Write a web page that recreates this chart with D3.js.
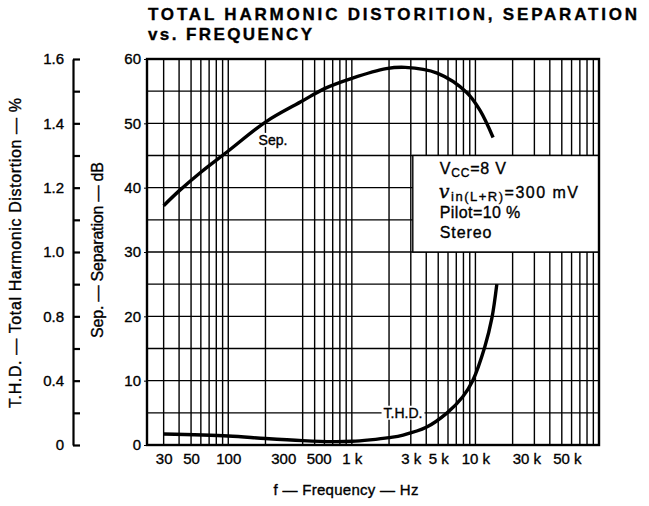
<!DOCTYPE html>
<html>
<head>
<meta charset="utf-8">
<script src="https://cdn.jsdelivr.net/npm/d3@7"></script>
<style>
body { margin: 0; background: #fff; }
svg text { font-family: "Liberation Sans", Arial, sans-serif; fill: #000; stroke: #000; stroke-width: 0.35; }
.axis path, .axis line { stroke: #000; }
</style>
</head>
<body>
<svg id="chart" width="649" height="506"></svg>
<script>
// values
var sepFreq = [30, 40, 60, 100, 200, 400, 600, 1000, 1900, 2700, 4900, 8500, 10900, 13900];
var sepDb = [37.2, 39.5, 42.4, 45.7, 50.2, 53.5, 55.4, 57, 58.5, 58.7, 57.8, 54.8, 52, 47.8];
var thdFreq = [30, 100, 200, 400, 700, 1000, 1400, 2000, 2600, 4000, 5900, 7900, 9500, 11900, 13600, 14900];
var thdPct = [0.068, 0.056, 0.04, 0.027, 0.021, 0.023, 0.032, 0.046, 0.062, 0.11, 0.2, 0.3, 0.4, 0.61, 0.79, 0.9];
var xTicks = [30, 50, 100, 300, 500, 1000, 3000, 5000, 10000, 30000, 50000];
var xTickNudge = { 300: -4, 500: 4, 30000: -8, 50000: 5 };
var sepTicks = [0, 10, 20, 30, 40, 50, 60];
var thdTicks = [0, 0.4, 0.8, 1.0, 1.2, 1.4, 1.6];
var thdMinor = [0.2, 0.6, 0.9, 1.1, 1.3, 1.5];
var conditions = ["Vcc=8 V", "vin(L+R)=300 mV", "Pilot=10 %", "Stereo"];

var margin = { top: 59, left: 147, right: 50, bottom: 61 };
var width = 649 - margin.left - margin.right;
var height = 506 - margin.top - margin.bottom;

var svg = d3.select("#chart");

var x = d3.scaleLog().domain([22, 100000]).range([margin.left, margin.left + width]);
var ySep = d3.scaleLinear().domain([0, 60]).range([margin.top + height, margin.top]);
// the T.H.D. scale on the datasheet is not linear: 0, 0.4, 0.8 then 0.2 steps
var yThd = d3.scaleLinear().domain(thdTicks).range(sepTicks.map(ySep));

// grid
var gridX = [];
[10, 100, 1000, 10000].forEach(function (d) {
    for (var m = 1; m < 10; m++) {
        var v = m * d;
        if (v >= 30 && v !== 300) gridX.push(v);
    }
});
var gridY = d3.range(5, 60, 5);

var grid = svg.append("g").attr("class", "grid");
grid.selectAll(".gx").data(gridX).enter().append("line")
    .attr("class", "gx")
    .attr("x1", function (d) { return x(d); })
    .attr("x2", function (d) { return x(d); })
    .attr("y1", ySep(60)).attr("y2", ySep(0))
    .attr("stroke", "#000").attr("stroke-width", 1.4);
grid.selectAll(".gy").data(gridY).enter().append("line")
    .attr("class", "gy")
    .attr("x1", x(22)).attr("x2", x(100000))
    .attr("y1", function (d) { return ySep(d); })
    .attr("y2", function (d) { return ySep(d); })
    .attr("stroke", "#000").attr("stroke-width", 1.4);

// conditions box
var boxX = x(3000) + 2, boxY = ySep(45), boxW = x(100000) - boxX, boxH = ySep(30) - ySep(45);
svg.append("rect")
    .attr("x", boxX).attr("y", boxY).attr("width", boxW).attr("height", boxH)
    .attr("fill", "#fff").attr("stroke", "#000").attr("stroke-width", 1.4);

var cond = svg.append("g").attr("font-size", 16).attr("letter-spacing", 0.4);
var t0 = cond.append("text").attr("x", boxX + 27).attr("y", boxY + 18).attr("letter-spacing", 0.8);
t0.append("tspan").text("V");
t0.append("tspan").attr("font-size", 12).attr("dy", 3).text("CC");
t0.append("tspan").attr("dy", -3).text("=8 V");
var t1 = cond.append("text").attr("x", boxX + 26).attr("y", boxY + 42).attr("letter-spacing", 1.5);
t1.append("tspan").attr("font-family", "DejaVu Serif").attr("font-style", "italic").attr("font-size", 19).text("v");
t1.append("tspan").attr("font-size", 13).attr("dy", 3).text("in(L+R)");
t1.append("tspan").attr("dy", -3).text("=300 mV");
cond.append("text").attr("x", boxX + 27).attr("y", boxY + 62).text(conditions[2]);
cond.append("text").attr("x", boxX + 27).attr("y", boxY + 82).attr("letter-spacing", 0.9).text(conditions[3]);

// frame
svg.append("rect")
    .attr("x", x(22)).attr("y", ySep(60))
    .attr("width", x(100000) - x(22)).attr("height", ySep(0) - ySep(60))
    .attr("fill", "none").attr("stroke", "#000").attr("stroke-width", 2.4);

// curves
var sepLine = d3.line()
    .x(function (d, i) { return x(sepFreq[i]); })
    .y(function (d) { return ySep(d); })
    .curve(d3.curveCatmullRom);
svg.append("path").datum(sepDb)
    .attr("d", sepLine)
    .attr("fill", "none").attr("stroke", "#000").attr("stroke-width", 3.4);

var thdLine = d3.line()
    .x(function (d, i) { return x(thdFreq[i]); })
    .y(function (d) { return yThd(d); })
    .curve(d3.curveCatmullRom);
svg.append("path").datum(thdPct)
    .attr("d", thdLine)
    .attr("fill", "none").attr("stroke", "#000").attr("stroke-width", 3.4);

// curve labels with white backing
function curveLabel(txt, cx, cy) {
    var g = svg.append("g");
    var t = g.append("text").attr("x", cx).attr("y", cy).attr("dy", "0.35em")
        .attr("text-anchor", "middle").attr("font-size", 14).text(txt);
    var bb = t.node().getBBox();
    g.insert("rect", "text")
        .attr("x", bb.x - 2).attr("y", bb.y + 1).attr("width", bb.width + 4).attr("height", bb.height - 2)
        .attr("fill", "#fff");
}
curveLabel("Sep.", 273, 140);
curveLabel("T.H.D.", 403, ySep(5));

// axes
var fmtHz = function (d) { return d >= 1000 ? (d / 1000) + " k" : d; };
var xAxis = svg.append("g").attr("class", "axis")
    .attr("transform", "translate(0," + ySep(0) + ")")
    .call(d3.axisBottom(x).tickValues(xTicks).tickFormat(fmtHz).tickSize(0).tickPadding(8))
    .call(function (g) { g.select(".domain").remove(); });
xAxis.selectAll("text").attr("font-size", 15)
    .attr("dx", function (d) { return xTickNudge[d] || 0; });

svg.append("g").attr("class", "axis")
    .attr("transform", "translate(" + x(22) + ",0)")
    .call(d3.axisLeft(ySep).tickValues(sepTicks).tickSize(3).tickPadding(3))
    .call(function (g) { g.select(".domain").remove(); })
    .selectAll("text").attr("font-size", 15);

var thdX = 73;
var thdAxis = svg.append("g").attr("class", "axis")
    .attr("transform", "translate(" + thdX + ",0)")
    .call(d3.axisLeft(yThd).tickValues(thdTicks).tickFormat(function (d) { return d === 0 ? "0" : d3.format(".1f")(d); })
        .tickSize(-7).tickSizeOuter(0).tickPadding(9));
thdAxis.selectAll("text").attr("font-size", 15);
thdAxis.selectAll("line, path").attr("stroke-width", 2.2);
svg.append("g").attr("class", "axis")
    .attr("transform", "translate(" + thdX + ",0)")
    .call(d3.axisLeft(yThd).tickValues(thdMinor).tickFormat("").tickSize(-7))
    .call(function (g) { g.select(".domain").remove(); })
    .selectAll("line").attr("stroke-width", 2.2);

// titles
var title = svg.append("g").attr("font-weight", "bold").attr("font-size", 17);
title.append("text").attr("x", 148).attr("y", 20)
    .attr("textLength", 489).attr("lengthAdjust", "spacing")
    .text("TOTAL HARMONIC DISTORITION, SEPARATION");
title.append("text").attr("x", 148).attr("y", 40)
    .attr("textLength", 164).attr("lengthAdjust", "spacing")
    .text("vs. FREQUENCY");

svg.append("text")
    .attr("transform", "translate(21,253) rotate(-90)")
    .attr("text-anchor", "middle").attr("font-size", 16)
    .attr("textLength", 310).attr("lengthAdjust", "spacing")
    .text("T.H.D. \u2014 Total Harmonic Distortion \u2014 %");
svg.append("text")
    .attr("transform", "translate(103,250) rotate(-90)")
    .attr("text-anchor", "middle").attr("font-size", 16)
    .attr("textLength", 176).attr("lengthAdjust", "spacing")
    .text("Sep. \u2014 Separation \u2014 dB");
svg.append("text")
    .attr("x", 346).attr("y", 495)
    .attr("text-anchor", "middle").attr("font-size", 15)
    .attr("textLength", 145).attr("lengthAdjust", "spacing")
    .text("f \u2014 Frequency \u2014 Hz");
</script>
</body>
</html>
